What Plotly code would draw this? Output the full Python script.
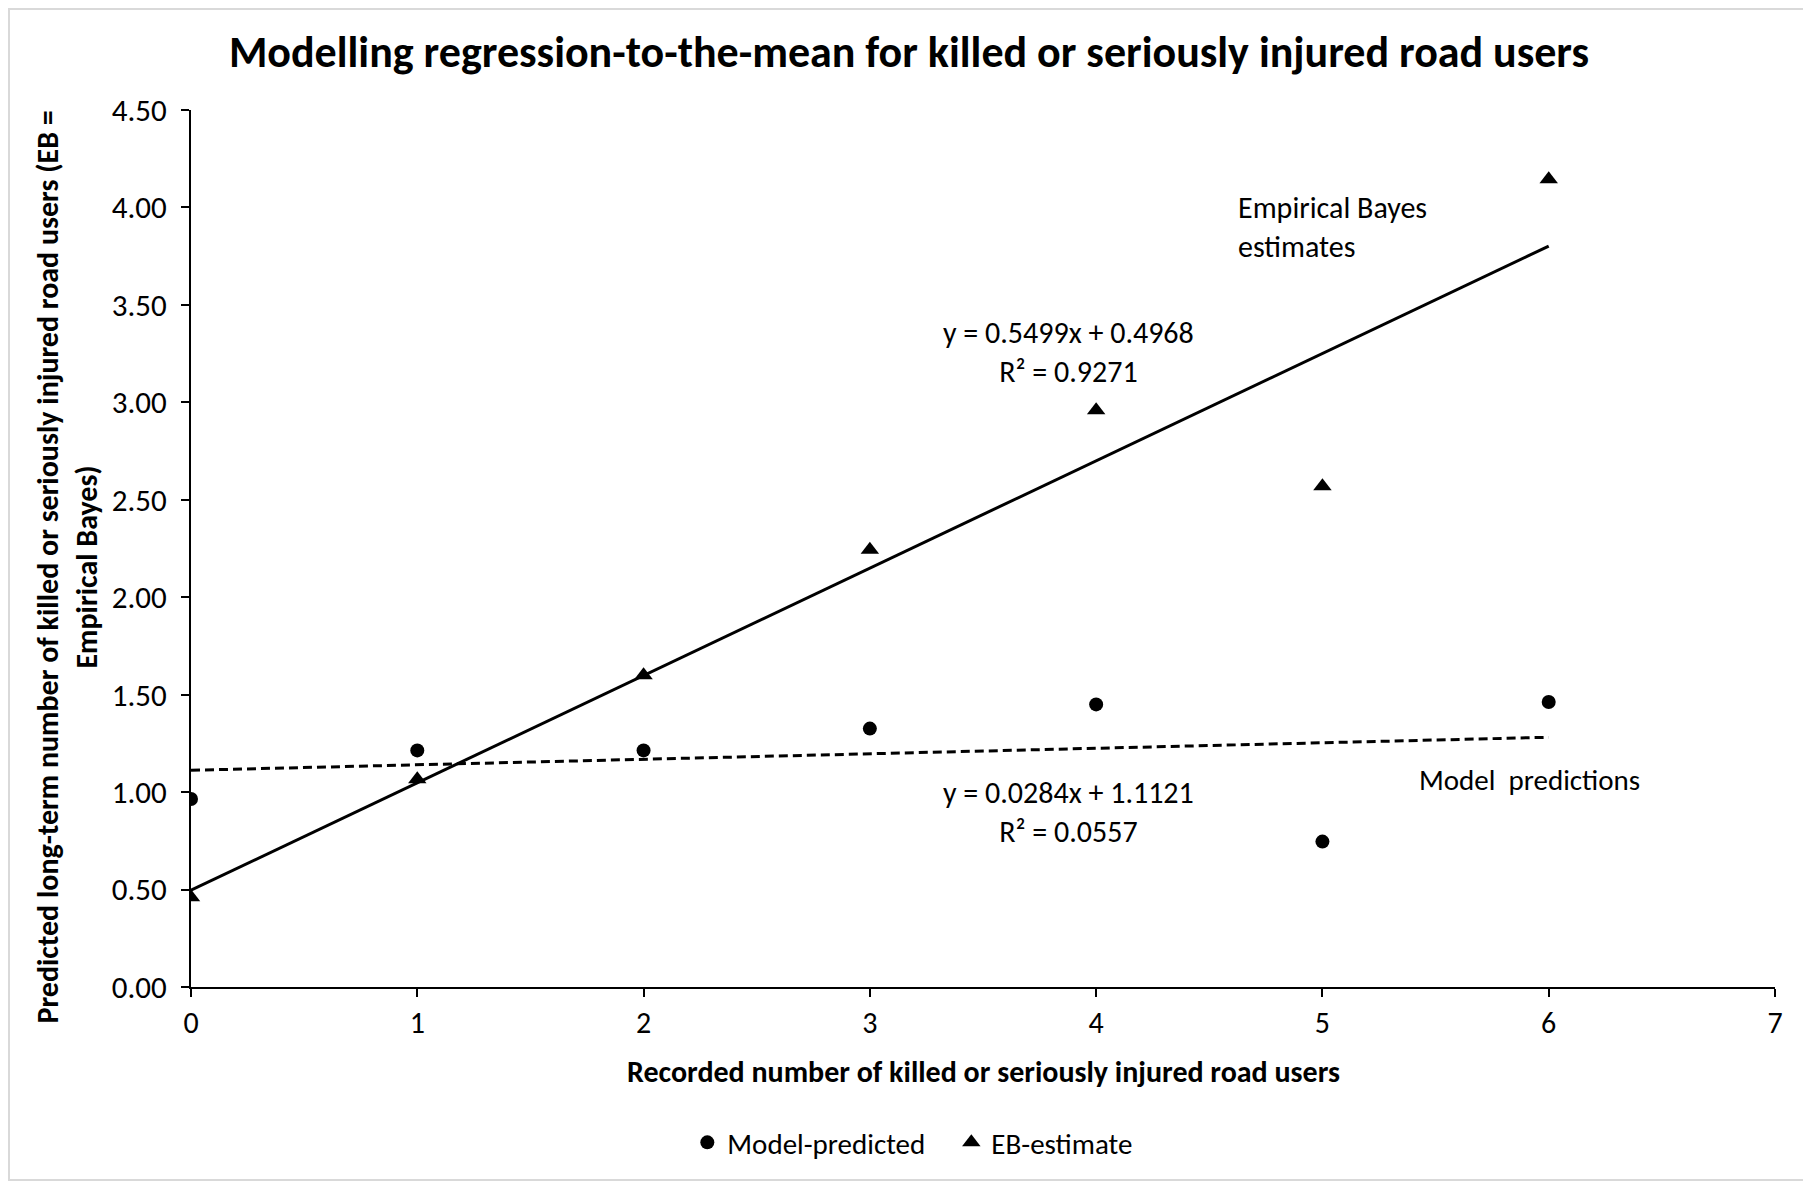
import numpy as np
import plotly.graph_objects as go

# Data
recorded = [0, 1, 2, 3, 4, 5, 6]
model_predicted = [0.965, 1.214, 1.214, 1.326, 1.45, 0.746, 1.462]
eb_estimate = [0.46, 1.066, 1.60, 2.244, 2.96, 2.57, 4.145]
y_ticks = [0.0, 0.5, 1.0, 1.5, 2.0, 2.5, 3.0, 3.5, 4.0, 4.5]
x_ticks = [0, 1, 2, 3, 4, 5, 6, 7]

FONT = "Carlito, 'Liberation Sans Narrow', 'Open Sans', sans-serif"

# Linear trendlines computed from the data
xs = np.array(recorded, dtype=float)
m_eb, b_eb = np.polyfit(xs, eb_estimate, 1)
m_mp, b_mp = np.polyfit(xs, model_predicted, 1)
x_line = np.array([min(recorded), max(recorded)], dtype=float)

W, H = 1803, 1173
L, R, T, B = 183, 36, 102, 194
PW, PH = W - L - R, H - T - B

fig = go.Figure()
fig.add_trace(go.Scatter(x=x_line, y=m_eb * x_line + b_eb, mode="lines",
                         line=dict(color="black", width=3), showlegend=False,
                         hoverinfo="skip"))
fig.add_trace(go.Scatter(x=x_line, y=m_mp * x_line + b_mp, mode="lines",
                         line=dict(color="black", width=3, dash="9px,5px"), showlegend=False,
                         hoverinfo="skip"))
fig.add_trace(go.Scatter(x=recorded, y=model_predicted, mode="markers", name="Model-predicted",
                         marker=dict(symbol="circle", size=14, color="black")))
fig.add_trace(go.Scatter(x=recorded, y=eb_estimate, mode="markers", name="EB-estimate",
                         marker=dict(symbol="triangle-up", size=16, color="black")))

ann_font = dict(family=FONT, size=30, color="black")
annotations = [
    dict(x=4.617, y=3.90, xref="x", yref="y", text="Empirical Bayes<br>estimates",
         showarrow=False, xanchor="left", yanchor="middle", align="left", font=ann_font),
    dict(x=3.88, y=3.256, xref="x", yref="y", text="y = 0.5499x + 0.4968<br>R² = 0.9271",
         showarrow=False, xanchor="center", yanchor="middle", align="center", font=ann_font),
    dict(x=3.88, y=0.90, xref="x", yref="y", text="y = 0.0284x + 1.1121<br>R² = 0.0557",
         showarrow=False, xanchor="center", yanchor="middle", align="center", font=ann_font),
    dict(x=5.42, y=1.06, xref="x", yref="y", text="Model  predictions",
         showarrow=False, xanchor="left", yanchor="middle", align="left",
         font=dict(family=FONT, size=29, color="black")),
    dict(x=0, y=0.5, xref="paper", yref="paper",
         text="<b>Predicted long-term number of killed or seriously injured road users (EB =<br>Empirical Bayes)</b>",
         showarrow=False, textangle=-90, xanchor="center", yanchor="middle", align="center",
         xshift=-125, yshift=-19, font=dict(family=FONT, size=30, color="black")),
    dict(x=0.5, y=0, xref="paper", yref="paper",
         text="<b>Recorded number of killed or seriously injured road users</b>",
         showarrow=False, xanchor="center", yanchor="middle", yshift=-84,
         font=dict(family=FONT, size=30, color="black")),
]

fig.update_layout(
    width=W, height=H,
    paper_bgcolor="white", plot_bgcolor="white",
    margin=dict(l=L, r=R, t=T, b=B, autoexpand=False),
    font=dict(family=FONT, size=30, color="black"),
    showlegend=True,
    title=dict(text="<b>Modelling regression-to-the-mean for killed or seriously injured road users</b>",
               x=0.4997, xanchor="center", y=1 - 44 / H, yanchor="middle",
               font=dict(family=FONT, size=44, color="black")),
    xaxis=dict(range=[0, 7], tickvals=x_ticks, showgrid=False, zeroline=False,
               showline=True, linecolor="black", linewidth=2, ticks="outside",
               ticklen=8, tickcolor="black", tickwidth=1.5, tickfont=dict(size=30)),
    yaxis=dict(range=[0, 4.5], tickvals=y_ticks, tickformat=".2f", showgrid=False,
               zeroline=False, showline=True, linecolor="black", linewidth=2,
               ticks="outside", ticklen=8, tickcolor="black", tickwidth=1.5,
               tickfont=dict(size=31), ticklabelstandoff=8),
    legend=dict(orientation="h", x=0.48, xanchor="center", y=-155.5 / PH, yanchor="middle",
                font=dict(size=29), itemwidth=30, entrywidth=219, entrywidthmode="pixels"),
    annotations=annotations,
    shapes=[dict(type="rect", xref="paper", yref="paper",
                 x0=-(L - 1) / PW, x1=1 + (R - 1) / PW, y0=-(B - 1) / PH, y1=1 + (T - 1) / PH,
                 line=dict(color="#d9d9d9", width=2), fillcolor="rgba(0,0,0,0)")],
)

fig.write_html("out.html")
